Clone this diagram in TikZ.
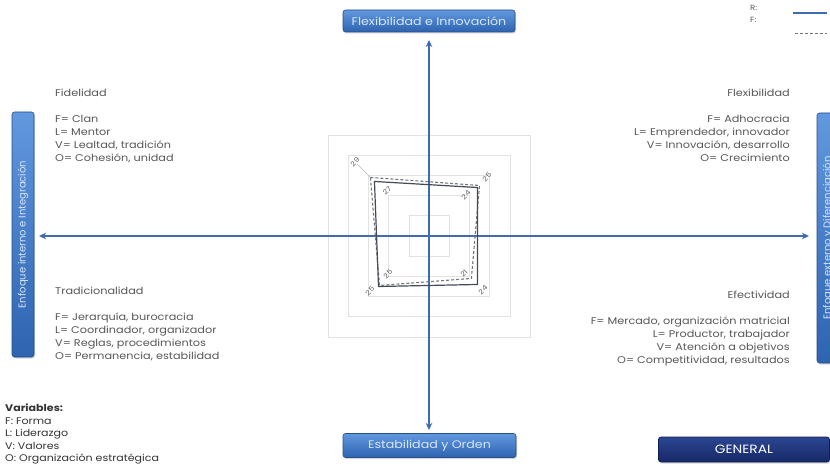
\documentclass[tikz,border=0pt]{standalone}
\usepackage{fontspec}
\setmainfont{Poppins}[FakeStretch=1.15]
\newfontfamily\narrowfont{Poppins}
\usetikzlibrary{arrows.meta,shadows}

\definecolor{axisblue}{RGB}{62,108,178}
\definecolor{boxtop}{RGB}{98,152,222}
\definecolor{boxbot}{RGB}{46,100,176}
\definecolor{boxedge}{RGB}{38,78,138}
\definecolor{boxtext}{RGB}{214,230,250}
\definecolor{navytop}{RGB}{44,70,146}
\definecolor{navybot}{RGB}{22,40,102}
\definecolor{navyedge}{RGB}{16,30,80}
\definecolor{txt}{RGB}{88,88,88}
\definecolor{gridgray}{RGB}{226,226,226}
\definecolor{rline}{RGB}{68,74,90}
\definecolor{fline}{RGB}{118,118,118}
\definecolor{lbl}{RGB}{95,95,95}

\tikzset{
  banner/.style={draw=boxedge, line width=0.6pt, rounded corners=2.5pt,
    top color=boxtop, bottom color=boxbot, text=boxtext, inner sep=0pt,
    font=\fontsize{11}{13}\selectfont,
    drop shadow={opacity=0.3, shadow xshift=1pt, shadow yshift=-1.5pt}},
  navybanner/.style={banner, draw=navyedge, top color=navytop, bottom color=navybot,
    text=white},
  axis/.style={draw=axisblue, line width=1.4pt,
    {Stealth[length=7pt,width=6.5pt]}-{Stealth[length=7pt,width=6.5pt]}},
  quadtext/.style={inner sep=0pt, text=txt, font=\fontsize{9.8}{13}\selectfont},
  gridsq/.style={draw=gridgray, line width=0.6pt},
  rseries/.style={draw=rline, line width=1.2pt, line join=round},
  fseries/.style={draw=fline, line width=1.1pt, dash pattern=on 3pt off 2pt},
  val/.style={inner sep=0pt, text=lbl, font=\fontsize{6.8}{7}\selectfont, rotate=45},
  leader/.style={draw=gray!55, line width=0.4pt},
}

\begin{document}
\begin{tikzpicture}[x=1pt,y=-1pt]
\clip (0,0) rectangle (830,470);
\fill[white] (0,0) rectangle (830,470);

% banners on the four sides and the summary tag
\node[banner, minimum width=172pt, minimum height=22pt] (flex) at (429,21) {Flexibilidad e Innovación};
\node[banner, minimum width=173pt, minimum height=24pt] (stab) at (429.5,445.5) {Estabilidad y Orden};
\node[banner, rotate=90, minimum width=245pt, minimum height=22pt] (intern) at (23,234.5) {\narrowfont\fontsize{10}{12}\selectfont Enfoque interno e Integración};
\node[banner, rotate=90, minimum width=250pt, minimum height=22pt] (extern) at (828,238) {\narrowfont\fontsize{10}{12}\selectfont Enfoque externo y Diferenciación};
\node[navybanner, minimum width=171pt, minimum height=25pt] (general) at (744,449.5) {\fontsize{12}{14}\selectfont GENERAL};

% axes
\coordinate (C) at (429,236);
\coordinate (axN) at (429,40);
\coordinate (axS) at (429,430);
\coordinate (axW) at (39,236);
\coordinate (axE) at (809,236);

% radar grid (levels 10..50)
\def\k{2.02}
\foreach \v in {10,20,30,40,50}{
  \draw[gridsq] (429-\v*\k,236-\v*\k) rectangle (429+\v*\k,236+\v*\k);
}

\draw[axis] (axN) -- (axS);
\draw[axis] (axW) -- (axE);

% series corners
\coordinate (r1) at (429-27*\k,236-27*\k);
\coordinate (r2) at (429+24*\k,236-24*\k);
\coordinate (r3) at (429+24*\k,236+24*\k);
\coordinate (r4) at (429-25*\k,236+25*\k);
\coordinate (f1) at (429-29*\k,236-29*\k);
\coordinate (f2) at (429+25*\k,236-25*\k);
\coordinate (f3) at (429+21*\k,236+21*\k);
\coordinate (f4) at (429-24.5*\k,236+24.5*\k);

\draw[fseries] (f1) -- (f2) -- (f3) -- (f4) -- cycle;
\draw[rseries] (r1) -- (r2) -- (r3) -- (r4) -- cycle;

% value labels
\node[val] (lr1) at (387,191) {27};
\node[val] (lr2) at (466,195) {24};
\node[val] (lr3) at (483,290) {24};
\node[val] (lr4) at (370,291) {25};
\node[val] (lf1) at (355,162) {29};
\node[val] (lf2) at (487,177) {25};
\node[val] (lf3) at (464,273) {21};
\node[val] (lf4) at (388,274) {25};
\draw[leader] (lf1) -- (f1);

% quadrant descriptions
\node[quadtext, anchor=north west, align=left] (fid) at (55,88.5)
  {Fidelidad\\[13pt]F= Clan\\L= Mentor\\V= Lealtad, tradición\\O= Cohesión, unidad};
\node[quadtext, anchor=north east, align=right] (flx) at (790,89)
  {Flexibilidad\\[13pt]F= Adhocracia\\L= Emprendedor, innovador\\V= Innovación, desarrollo\\O= Crecimiento};
\node[quadtext, anchor=north west, align=left] (tra) at (55,286.5)
  {Tradicionalidad\\[13pt]F= Jerarquía, burocracia\\L= Coordinador, organizador\\V= Reglas, procedimientos\\O= Permanencia, estabilidad};
\node[quadtext, anchor=north east, align=right] (efe) at (790,290.5)
  {Efectividad\\[13pt]F= Mercado, organización matricial\\L= Productor, trabajador\\V= Atención a objetivos\\O= Competitividad, resultados};

% variables key
\node[inner sep=0pt, anchor=north west, align=left, text=black!80,
      font=\fontsize{9.6}{12.4}\selectfont] (vars) at (5,404)
  {\textbf{Variables:}\\F: Forma\\L: Liderazgo\\V: Valores\\O: Organización estratégica};

% series key
\node[inner sep=0pt, anchor=west, text=txt, font=\fontsize{7.5}{8}\selectfont] (kr) at (750,8) {R:};
\node[inner sep=0pt, anchor=west, text=txt, font=\fontsize{7.5}{8}\selectfont] (kf) at (750,20) {F:};
\coordinate (kr1) at (793,13);
\coordinate (kr2) at (827,13);
\coordinate (kf1) at (795,33);
\coordinate (kf2) at (827,33);
\draw[draw=axisblue, line width=1.2pt] (kr1) -- (kr2);
\draw[draw=fline, line width=0.9pt, dash pattern=on 3pt off 2pt] (kf1) -- (kf2);
\end{tikzpicture}
\end{document}
